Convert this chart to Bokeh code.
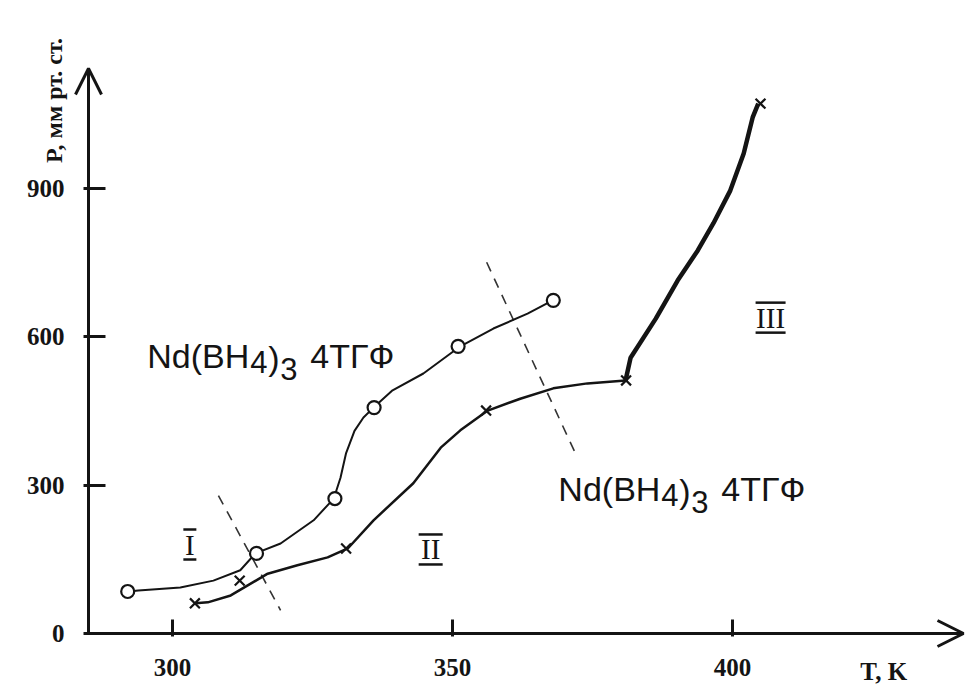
import math
from bokeh.plotting import figure
from bokeh.models import Range1d, Label, Arrow, OpenHead, FixedTicker, LinearAxis
from bokeh.core.properties import value
from bokeh.embed import file_html
from bokeh.resources import INLINE

# ---- data (T in K, P in mm Hg) ----
x_ticks = [300, 350, 400]
y_ticks = [0, 300, 600, 900]

# measured points, first series (open circles)
circle_T = [292, 315, 329, 336, 351, 368]
circle_P = [85, 162, 273, 457, 581, 674]
# measured points, second series (crosses)
cross_T = [304, 312, 331, 356, 381, 405]
cross_P = [61, 107, 172, 451, 512, 1072]

# hand-drawn curves
circle_curve_T = [292.1, 293.9, 301.4, 307.3, 312.1, 314.8, 319.3, 325.2, 328.8, 330.0,
                  331.0, 332.5, 334.1, 335.9, 339.3, 344.8, 351.4, 357.3, 363.4, 367.9]
circle_curve_P = [85, 87, 93, 107, 128, 162, 182, 229, 273, 315,
                  365, 410, 437, 457, 492, 526, 581, 617, 647, 674]
cross_curve_T = [304.1, 306.3, 310.4, 317.0, 322.3, 327.7, 331.3, 335.9, 343.0, 347.9,
                 351.4, 356.3, 362.1, 368.0, 374.1, 380.9]
cross_curve_P = [61, 63, 77, 121, 138, 154, 172, 229, 304, 376,
                 411, 451, 475, 496, 506, 512]
steep_curve_T = [380.9, 381.8, 386.3, 390.2, 393.8, 396.6, 399.6, 402.0, 403.6, 404.6]
steep_curve_P = [512, 558, 637, 714, 775, 830, 896, 971, 1044, 1072]

# dashed region boundaries
boundary1_T = [308.2, 319.3]
boundary1_P = [279, 47]
boundary2_T = [356.1, 372.3]
boundary2_P = [751, 356]

# region labels
region_text = ["I", "II", "III"]
region_T = [303.1, 346.1, 406.8]
region_P = [180, 170, 639]

# compound labels (anchor of the text start / baseline)
compound_T = [295.5, 368.9]
compound_P = [562, 293]

# ---- layout: frame fills the canvas, axes are placed at T=285 and P=0 ----
PX_PER_K = 5.6
PX_PER_P = 0.4943
T_AX, T_END = 285, 441.25
P_END = 1143
x_lo = T_AX - 88 / PX_PER_K
x_hi = T_AX + 877 / PX_PER_K
y_lo = -56 / PX_PER_P
y_hi = 633 / PX_PER_P

INK = "#141414"

p = figure(width=965, height=689,
           x_range=Range1d(x_lo, x_hi), y_range=Range1d(y_lo, y_hi),
           output_backend="svg", toolbar_location=None,
           x_axis_location=None, y_axis_location=None,
           min_border=0)
p.grid.visible = False
p.outline_line_color = None
p.background_fill_color = "white"
p.border_fill_color = "white"

xax = LinearAxis(fixed_location=0, bounds=(T_AX, T_END))
yax = LinearAxis(fixed_location=T_AX, bounds=(0, P_END))
p.add_layout(xax, "below")
p.add_layout(yax, "left")

for ax in (xax, yax):
    ax.axis_line_width = 3
    ax.axis_line_color = INK
    ax.major_tick_line_width = 3
    ax.major_tick_line_color = INK
    ax.minor_tick_line_color = None
    ax.major_label_text_font = "Liberation Serif"
    ax.major_label_text_font_style = "bold"
    ax.major_label_text_font_size = "25px"
    ax.major_label_text_color = INK

xax.ticker = FixedTicker(ticks=x_ticks)
xax.major_tick_in = 14
xax.major_tick_out = 3
xax.major_label_standoff = 22

yax.ticker = FixedTicker(ticks=y_ticks)
yax.major_tick_in = 17
yax.major_tick_out = 5
yax.major_label_standoff = 19

# arrow heads on the axes
p.add_layout(Arrow(end=OpenHead(size=26, line_width=3, line_color=INK),
                   x_start=T_AX, y_start=1000, x_end=T_AX, y_end=P_END, line_alpha=0))
p.add_layout(Arrow(end=OpenHead(size=26, line_width=3, line_color=INK),
                   x_start=420, y_start=0, x_end=T_END, y_end=0, line_alpha=0))

# dashed boundaries
p.line(boundary1_T, boundary1_P, line_color="#333333", line_width=1.6, line_dash="10 8")
p.line(boundary2_T, boundary2_P, line_color="#333333", line_width=1.6, line_dash="10 8")

# curves
p.line(circle_curve_T, circle_curve_P, line_color=INK, line_width=2)
p.line(cross_curve_T, cross_curve_P, line_color=INK, line_width=2.5)
p.line(steep_curve_T, steep_curve_P, line_color=INK, line_width=4.5)

# markers
p.scatter(circle_T, circle_P, marker="circle", size=13, line_width=2.2,
          line_color=INK, fill_color="white")
p.scatter(cross_T, cross_P, marker="x", size=14, line_width=2.2, line_color=INK)

# region numerals with bars above and below
p.text(region_T, region_P, text=region_text, text_font=value("Liberation Serif"),
       text_font_size="29px", text_align="center", text_baseline="middle",
       text_color=INK)
bar_len = [13, 24, 30]
dy = 15 / PX_PER_P
p.scatter(region_T, [v + dy for v in region_P], marker="dash", size=bar_len,
          line_width=2.5, line_color=INK)
p.scatter(region_T, [v - dy for v in region_P], marker="dash", size=bar_len,
          line_width=2.5, line_color=INK)

# compound labels Nd(BH4)3 4ТГФ, built from pieces to get large subscripts
pieces = [("Nd(BH", 0, 0, "34px"), ("4", 103, 6, "31px"), (")", 121, 2, "34px"),
          ("3", 133, 13, "31px"), ("4ТГФ", 163, 0, "34px")]
for cT, cP in zip(compound_T, compound_P):
    for txt, dx, ddy, fs in pieces:
        p.text([cT], [cP], text=[txt], x_offset=dx, y_offset=ddy,
               text_font=value("Liberation Sans"), text_font_size=fs,
               text_align="left", text_baseline="alphabetic", text_color=INK)

# axis titles
p.add_layout(Label(x=427, y=-76, text="T, K", text_align="center",
                   text_baseline="middle", text_font="Liberation Serif",
                   text_font_style="bold", text_font_size="25px", text_color=INK))
p.add_layout(Label(x=278.75, y=952, text="P, мм рт. ст.", angle=math.pi / 2,
                   text_align="left", text_baseline="alphabetic",
                   text_font="Liberation Serif", text_font_style="bold",
                   text_font_size="24px", text_color=INK))

open("out.html", "w").write(file_html(p, INLINE))
